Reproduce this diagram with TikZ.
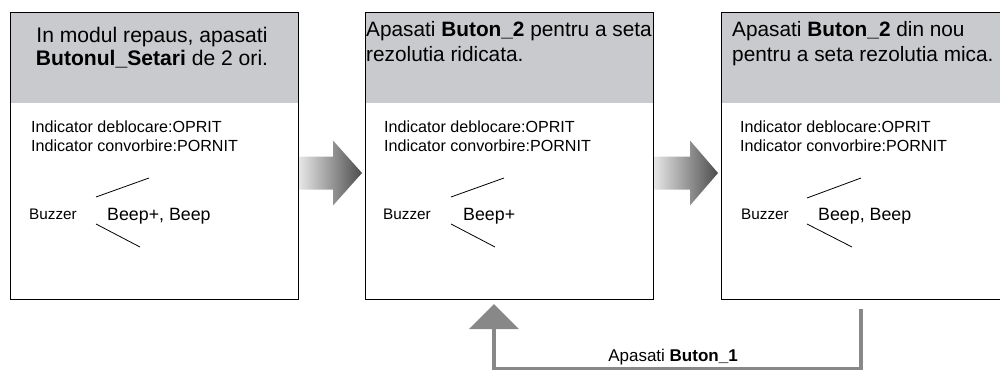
\documentclass[tikz,border=0pt]{standalone}
\usepackage{fontspec}
\setmainfont{Liberation Sans}
\usetikzlibrary{calc,arrows.meta}
\definecolor{hdr}{HTML}{C8CACD}
\definecolor{conn}{HTML}{888888}
\tikzset{
  panel/.style={draw=black, line width=1.3pt, minimum width=288pt, minimum height=287pt, inner sep=0pt, anchor=north west},
  header/.style={fill=hdr, minimum width=288pt, minimum height=91pt, inner sep=0pt, anchor=north west},
  htextA/.style={inner sep=0pt, align=center, anchor=base, font=\fontsize{21.1}{23}\selectfont},
  htextB/.style={inner sep=0pt, align=left, anchor=base west, font=\fontsize{20.8}{25}\selectfont},
  btext/.style={inner sep=0pt, anchor=base west, align=left, font=\fontsize{16.1}{19}\selectfont},
  buzz/.style={inner sep=0pt, anchor=base west, font=\fontsize{15.3}{18}\selectfont},
  beep/.style={inner sep=0pt, anchor=base west, font=\fontsize{17.8}{20}\selectfont},
  ray/.style={line width=0.8pt},
  flow/.style={left color=black!10, right color=black!70},
  feed/.style={draw=conn, line width=4pt},
  feedlabel/.style={inner sep=0pt, anchor=base, font=\fontsize{17}{20}\selectfont},
}
\begin{document}
\begin{tikzpicture}[x=1pt,y=-1pt]
\useasboundingbox (0,0) rectangle (1000,369);
\clip (0,0) rectangle (1000,369);

% headers
\node[header] (h1) at (10,12) {};
\node[header] (h2) at (365,12) {};
\node[header] (h3) at (721,12) {};
% panels
\node[panel] (b1) at (10,12) {};
\node[panel] (b2) at (365,12) {};
\node[panel] (b3) at (721,12) {};

% header texts (anchored at the baseline of the last line)
\node[htextA] (t1) at (152,65) {In modul repaus, apasati\\\textbf{Butonul\_Setari} de 2 ori.};
\node[htextB] (t2) at (366,62) {Apasati \textbf{Buton\_2} pentru a seta\\rezolutia ridicata.};
\node[htextB] (t3) at (732,62) {Apasati \textbf{Buton\_2} din nou\\pentru a seta rezolutia mica.};

% indicators
\node[btext] (i1) at (31,151) {Indicator deblocare:OPRIT\\Indicator convorbire:PORNIT};
\node[btext] (i2) at (384,151) {Indicator deblocare:OPRIT\\Indicator convorbire:PORNIT};
\node[btext] (i3) at (740,151) {Indicator deblocare:OPRIT\\Indicator convorbire:PORNIT};

% buzzer
\node[buzz] (z1) at (29,219) {Buzzer};
\node[buzz] (z2) at (383,219) {Buzzer};
\node[buzz] (z3) at (741,219) {Buzzer};
\node[beep] (p1) at (107,220) {Beep+, Beep};
\node[beep] (p2) at (463,220) {Beep+};
\node[beep] (p3) at (818,220) {Beep, Beep};

\draw[ray] (96,197) -- (149,178);
\draw[ray] (96,224) -- (140,247);
\draw[ray] (451,197) -- (504,178);
\draw[ray] (451,224) -- (495,247);
\draw[ray] (807,198) -- (861,178);
\draw[ray] (807,224) -- (852,247);

% flow arrows
\coordinate (f1s) at (b1.east |- 0,173);
\coordinate (f1e) at ($(b2.west |- 0,173)+(-3,0)$);
\coordinate (f2s) at (b2.east |- 0,173);
\coordinate (f2e) at ($(b3.west |- 0,173)+(-3,0)$);
\shade[flow] ($(f1s)+(0,-16.5)$) -- ($(f1e)+(-29,-16.5)$) -- ($(f1e)+(-29,-32.5)$) -- (f1e)
  -- ($(f1e)+(-29,32.5)$) -- ($(f1e)+(-29,16.5)$) -- ($(f1s)+(0,16.5)$) -- cycle;
\shade[flow] ($(f2s)+(0,-16.5)$) -- ($(f2e)+(-28,-16.5)$) -- ($(f2e)+(-28,-32.5)$) -- (f2e)
  -- ($(f2e)+(-28,32.5)$) -- ($(f2e)+(-28,16.5)$) -- ($(f2s)+(0,16.5)$) -- cycle;

% feedback connector
\coordinate (src) at (861,309);
\coordinate (dst) at (494,304);
\draw[feed, -{Triangle[width=49pt,length=25pt]}] (src) -- (861,369) -- (494,369) -- (dst);
\node[feedlabel] (fl) at (673,361) {Apasati \textbf{Buton\_1}};
\end{tikzpicture}
\end{document}
